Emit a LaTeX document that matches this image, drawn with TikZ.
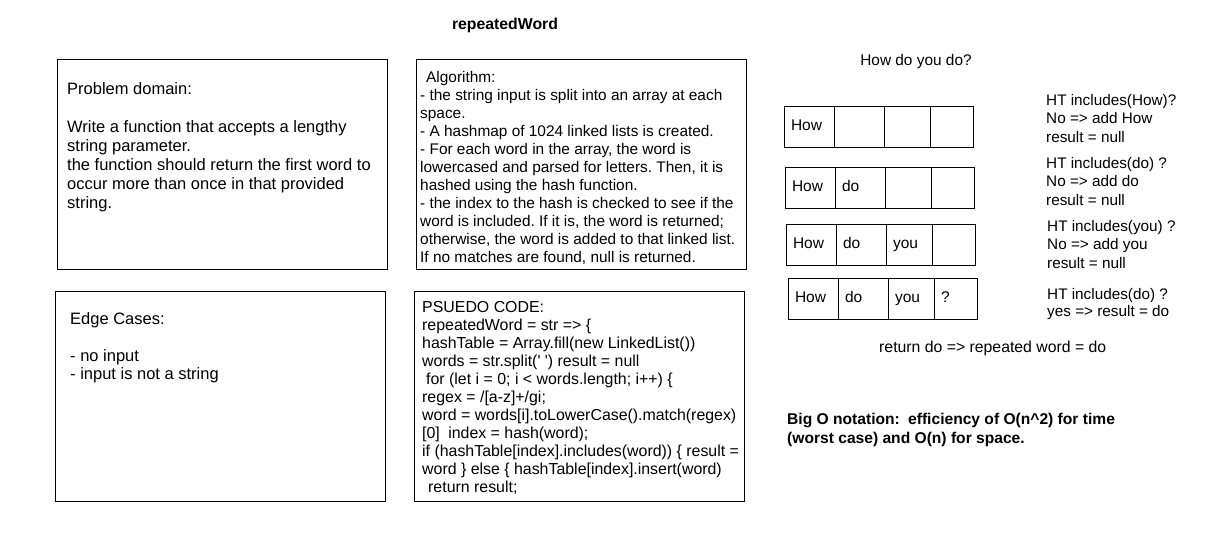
\documentclass[tikz,border=0pt]{standalone}
\usepackage{fontspec}
\setmainfont{Liberation Sans}
\usetikzlibrary{positioning}
\frenchspacing

\begin{document}
\begin{tikzpicture}[x=1pt, y=-1pt,
    panel/.style={draw, line width=1pt, minimum width=330pt, minimum height=210pt, anchor=north west, inner sep=0pt},
    txt/.style={align=left, anchor=north west, inner sep=0pt},
    cell/.style={draw, line width=1pt, outer sep=0pt, minimum height=41pt, text width=#1, inner xsep=7pt,
        inner ysep=0pt, text height=11pt, text depth=3pt, align=left, font=\fontsize{15.5}{18}\selectfont}]
    \useasboundingbox (0,0) rectangle (1229,550);
    \node[font=\bfseries\fontsize{15.8}{19}\selectfont] (title) at (505,25) {repeatedWord};

    \node[panel] (prob) at (57,59) {};
    \node[panel] (algo) at (416,59) {};
    \node[panel] (edge) at (55,291) {};
    \node[panel] (pseudo) at (414,291) {};

    \node[txt, font=\fontsize{16.5}{19}\selectfont] (probtxt) at ([shift={(10,23)}]prob.north west)
        {Problem domain:\\[19pt]Write a function that accepts a lengthy\\string parameter.\\
         the function should return the first word to\\occur more than once in that provided\\string.};
    \node[txt, font=\fontsize{15.4}{18}\selectfont] (algotxt) at ([shift={(4,12)}]algo.north west)
        {\hspace*{6pt}Algorithm:\\- the string input is split into an array at each\\space.\\
         - A hashmap of 1024 linked lists is created.\\- For each word in the array, the word is\\
         lowercased and parsed for letters. Then, it is\\hashed using the hash function.\\
         - the index to the hash is checked to see if the\\word is included. If it is, the word is returned;\\
         otherwise, the word is added to that linked list.\\If no matches are found, null is returned.};
    \node[txt, font=\fontsize{16.5}{18.5}\selectfont] (edgetxt) at ([shift={(15,21)}]edge.north west)
        {Edge Cases:\\[18.5pt]- no input\\- input is not a string};
    \node[txt, font=\fontsize{15.9}{18}\selectfont] (pseudotxt) at ([shift={(8,10)}]pseudo.north west)
        {PSUEDO CODE:\\repeatedWord = str => \{\\hashTable = Array.fill(new LinkedList())\\
         words = str.split(\textquotesingle\ \textquotesingle) result = null\\\hspace*{4pt}for (let i = 0; i < words.length; i++) \{\\
         regex = /[a-z]+/gi;\\word = words[i].toLowerCase().match(regex)\\{[0]}\hspace*{4pt} index = hash(word);\\
         if (hashTable[index].includes(word)) \{ result =\\word \} else \{ hashTable[index].insert(word)\\
         \hspace*{6pt}return result;};

    \node[font=\fontsize{15.4}{18}\selectfont] (sentence) at (916,62) {How do you do?};
    \foreach \r/\x/\y/\a/\b/\c/\d in {1/784/106/How/{}/{}/{}, 2/785/167/How/do/{}/{},
        3/786/224/How/do/you/{}, 4/788/278/How/do/you/?}{
        \node[cell=36pt, anchor=north west] (c\r1) at (\x,\y) {\a};
        \node[cell=36pt, right=0pt of c\r1] (c\r2) {\b};
        \node[cell=32pt, right=0pt of c\r2] (c\r3) {\c};
        \node[cell=29pt, right=0pt of c\r3] (c\r4) {\d};
    }
    \node[txt, font=\fontsize{15.3}{18.5}\selectfont] (ht1) at (1046,94) {HT includes(How)?\\No => add How\\result = null};
    \node[txt, font=\fontsize{15.3}{18.5}\selectfont] (ht2) at (1046,157) {HT includes(do) ?\\No => add do\\result = null};
    \node[txt, font=\fontsize{15.3}{18.5}\selectfont] (ht3) at (1047,220) {HT includes(you) ?\\No => add you\\result = null};
    \node[txt, font=\fontsize{15.3}{17.5}\selectfont] (ht4) at (1047,288) {HT includes(do) ?\\yes => result = do};
    \node[txt, font=\fontsize{15.8}{18.5}\selectfont] (ret) at (879,341) {return do => repeated word = do};
    \node[txt, font=\bfseries\fontsize{15.6}{19}\selectfont] (bigo) at (787,413)
        {Big O notation:\hspace*{4pt} efficiency of O(n\^{}2) for time\\(worst case) and O(n) for space.};
\end{tikzpicture}
\end{document}
